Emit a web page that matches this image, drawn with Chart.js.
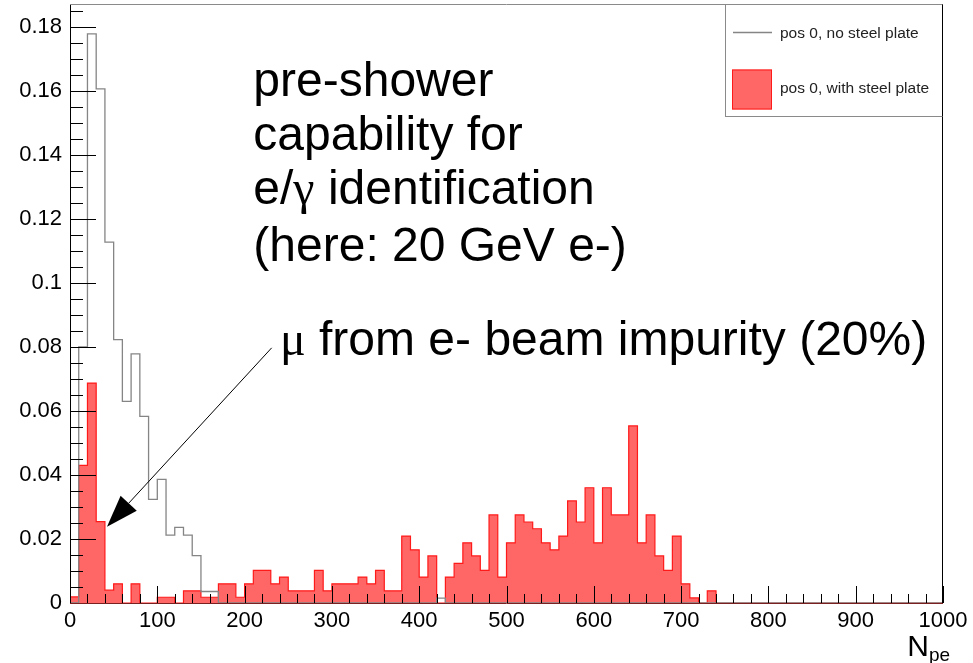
<!DOCTYPE html>
<html>
<head>
<meta charset="utf-8">
<script src="https://cdn.jsdelivr.net/npm/chart.js@4.4.1/dist/chart.umd.min.js"></script>
<style>
  html, body { margin: 0; padding: 0; background: #fff; }
  #wrap { width: 973px; height: 663px; }
</style>
</head>
<body>
<div id="wrap"><canvas id="npeChart" width="973" height="663"></canvas></div>
<script>
// Histogram binning: 100 bins of 10 p.e. starting at 0
const binStart = 0;
const binWidth = 10;

// pos 0, no steel plate (normalised entries per bin, bins 0-10, 10-20, ...)
const noPlate = [
  0, 0.080, 0.1778, 0.1606, 0.1127, 0.0823, 0.0630, 0.0778, 0.0583, 0.0324,
  0.0386, 0.0212, 0.0236, 0.0212, 0.0148, 0.0036, 0.0036, 0, 0, 0,
  0, 0, 0, 0, 0, 0, 0, 0, 0, 0,
  0, 0, 0, 0, 0, 0, 0, 0, 0, 0,
  0, 0, 0.0015, 0, 0, 0, 0, 0, 0, 0,
  0, 0, 0, 0, 0, 0, 0, 0, 0, 0,
  0, 0, 0, 0, 0, 0, 0, 0, 0, 0,
  0, 0, 0, 0, 0, 0, 0, 0, 0, 0,
  0, 0, 0, 0, 0, 0, 0, 0, 0, 0,
  0, 0, 0, 0, 0, 0, 0, 0, 0, 0
];

// pos 0, with steel plate
const withPlate = [
  0.0019, 0.0430, 0.0687, 0.0254, 0.0040, 0.0060, 0, 0.0060, 0, 0,
  0.0018, 0.0018, 0, 0.0038, 0.0038, 0.0018, 0.0018, 0.0060, 0.0060, 0.0018,
  0.0060, 0.0102, 0.0102, 0.0060, 0.0081, 0.0038, 0.0038, 0.0038, 0.0102, 0.0038,
  0.0060, 0.0060, 0.0060, 0.0081, 0.0060, 0.0102, 0.0038, 0.0038, 0.0209, 0.0166,
  0.0081, 0.0147, 0, 0.0081, 0.0124, 0.0188, 0.0147, 0.0102, 0.0275, 0.0081,
  0.0188, 0.0275, 0.0253, 0.0232, 0.0188, 0.0166, 0.0209, 0.0319, 0.0253, 0.0360,
  0.0188, 0.0360, 0.0275, 0.0275, 0.0553, 0.0188, 0.0275, 0.0147, 0.0102, 0.0209,
  0.0060, 0.0016, 0, 0.0038, 0, 0, 0, 0, 0, 0,
  0, 0, 0, 0, 0, 0, 0, 0, 0, 0,
  0, 0, 0, 0, 0, 0, 0, 0, 0, 0
];

const xTicks = [0, 100, 200, 300, 400, 500, 600, 700, 800, 900, 1000];
const yTicks = [0, 0.02, 0.04, 0.06, 0.08, 0.1, 0.12, 0.14, 0.16, 0.18];
const yTop = 0.1868;
const xMinorStep = 20;
const yMinorStep = 0.005;

const seriesLabels = ['pos 0, no steel plate', 'pos 0, with steel plate'];
const noteLines = [
  [['pre-shower', 0]],
  [['capability for', 0]],
  [['e/', 0], ['\u03b3', 1], [' identification', 0]],
  [['(here: 20 GeV e-)', 0]]
];
const muNote = [['\u03bc', 1], [' from e- beam impurity (20%)', 0]];

const SANS = '"Liberation Sans", Arial, Helvetica, sans-serif';
const SERIF = '"Liberation Serif", "Times New Roman", serif';
const greyLine = '#858585';
const redFill = 'rgba(255, 0, 0, 0.6)';
const redLine = '#ff1a1a';

// turn per-bin contents into step points (left edge of each bin + closing edge)
function stepPoints(values) {
  const pts = values.map((v, i) => ({ x: binStart + i * binWidth, y: v }));
  pts.push({ x: binStart + values.length * binWidth, y: values[values.length - 1] });
  return pts;
}

function drawMixed(ctx, parts, x, y, size) {
  let cx = x;
  parts.forEach(([txt, serif]) => {
    ctx.font = size + 'px ' + (serif ? SERIF : SANS);
    ctx.fillText(txt, cx, y);
    cx += ctx.measureText(txt).width;
  });
}

// ROOT-like frame: ticks inside the pad, legend box, annotations
const rootStyle = {
  id: 'rootStyle',
  afterDatasetsDraw(chart) {
    const { ctx, chartArea: ca, scales: { x, y } } = chart;
    ctx.save();
    ctx.strokeStyle = '#000';
    ctx.lineWidth = 1;
    ctx.beginPath();
    // y ticks (major + minor), pointing right
    for (let k = 0; k * yMinorStep <= yTop + 1e-9; k++) {
      const v = k * yMinorStep;
      const major = yTicks.some(t => Math.abs(t - v) < 1e-9);
      const py = Math.round(y.getPixelForValue(v)) + 0.5;
      ctx.moveTo(ca.left, py);
      ctx.lineTo(ca.left + (major ? 26 : 13), py);
    }
    // x ticks, pointing up
    for (let v = 0; v <= 1000; v += xMinorStep) {
      const major = xTicks.includes(v);
      const px = Math.round(x.getPixelForValue(v)) + 0.5;
      ctx.moveTo(px, ca.bottom);
      ctx.lineTo(px, ca.bottom - (major ? 17 : 9));
    }
    ctx.stroke();

    // axes and frame
    ctx.beginPath();
    ctx.strokeStyle = '#000';
    ctx.moveTo(Math.round(ca.left) + 0.5, ca.bottom);
    ctx.lineTo(Math.round(ca.left) + 0.5, ca.top);
    ctx.moveTo(Math.round(ca.right) - 0.5, ca.top);
    ctx.lineTo(Math.round(ca.right) - 0.5, ca.bottom);
    ctx.stroke();
    ctx.beginPath();
    ctx.strokeStyle = '#7a2020';
    ctx.moveTo(ca.left, Math.round(ca.bottom) + 0.5);
    ctx.lineTo(ca.right, Math.round(ca.bottom) + 0.5);
    ctx.stroke();
    ctx.beginPath();
    ctx.strokeStyle = '#8a8a8a';
    ctx.moveTo(ca.left, Math.round(ca.top) - 0.5);
    ctx.lineTo(ca.right, Math.round(ca.top) - 0.5);
    ctx.stroke();
    ctx.restore();
  },
  afterDraw(chart) {
    const { ctx, chartArea: ca, scales: { x, y } } = chart;
    ctx.save();

    // legend box in the top-right corner
    const lx = ca.right - 218, ly = ca.top - 0.5, lw = 218, lh = 112;
    ctx.fillStyle = '#fff';
    ctx.fillRect(lx, ly, lw, lh);
    ctx.strokeStyle = '#8a8a8a';
    ctx.lineWidth = 1;
    ctx.strokeRect(Math.round(lx) + 0.5, ly, lw - 1, lh);
    ctx.beginPath();
    ctx.strokeStyle = '#000';
    ctx.moveTo(Math.round(ca.right) - 0.5, ly);
    ctx.lineTo(Math.round(ca.right) - 0.5, ly + lh);
    ctx.stroke();

    ctx.beginPath();
    ctx.strokeStyle = greyLine;
    ctx.lineWidth = 1.3;
    ctx.moveTo(lx + 8, ly + 28);
    ctx.lineTo(lx + 47, ly + 28);
    ctx.stroke();
    ctx.fillStyle = redFill;
    ctx.fillRect(lx + 7, ly + 65, 40, 40);
    ctx.strokeStyle = redLine;
    ctx.lineWidth = 1;
    ctx.strokeRect(lx + 7.5, ly + 65.5, 39, 39);

    ctx.fillStyle = '#222';
    ctx.font = '15.5px ' + SANS;
    ctx.textBaseline = 'alphabetic';
    ctx.textAlign = 'left';
    ctx.fillText(seriesLabels[0], lx + 55, ly + 33);
    ctx.fillText(seriesLabels[1], lx + 55, ly + 88);

    // annotation text, anchored in data space
    ctx.fillStyle = '#000';
    const noteX = x.getPixelForValue(210);
    const noteY = [0.1584, 0.1415, 0.1246, 0.1068];
    noteLines.forEach((parts, i) => drawMixed(ctx, parts, noteX, y.getPixelForValue(noteY[i]), 48));
    drawMixed(ctx, muNote, x.getPixelForValue(240.5), y.getPixelForValue(0.0775), 48);

    // arrow to the muon peak
    const x0 = x.getPixelForValue(231), y0 = y.getPixelForValue(0.0797);
    const x1 = x.getPixelForValue(42.4), y1 = y.getPixelForValue(0.0238);
    const ang = Math.atan2(y1 - y0, x1 - x0);
    const hl = 32, hw = 11;
    const bx = x1 - hl * Math.cos(ang), by = y1 - hl * Math.sin(ang);
    ctx.strokeStyle = '#000';
    ctx.lineWidth = 1;
    ctx.beginPath();
    ctx.moveTo(x0, y0);
    ctx.lineTo(bx, by);
    ctx.stroke();
    ctx.beginPath();
    ctx.moveTo(x1, y1);
    ctx.lineTo(bx + hw * Math.sin(ang), by - hw * Math.cos(ang));
    ctx.lineTo(bx - hw * Math.sin(ang), by + hw * Math.cos(ang));
    ctx.closePath();
    ctx.fill();

    // x axis title N_pe
    ctx.font = '30px ' + SANS;
    ctx.textAlign = 'left';
    const nW = ctx.measureText('N').width;
    const tx = ca.right - nW - 14;
    ctx.fillText('N', tx, 656);
    ctx.font = '19px ' + SANS;
    ctx.fillText('pe', tx + nW, 661);
    ctx.restore();
  }
};

const ctx = document.getElementById('npeChart').getContext('2d');
new Chart(ctx, {
  type: 'line',
  data: {
    datasets: [
      {
        label: seriesLabels[0],
        data: stepPoints(noPlate),
        stepped: 'before',
        borderColor: greyLine,
        borderWidth: 1.3,
        pointRadius: 0,
        fill: false
      },
      {
        label: seriesLabels[1],
        data: stepPoints(withPlate),
        stepped: 'before',
        borderColor: redLine,
        borderWidth: 1.2,
        backgroundColor: redFill,
        pointRadius: 0,
        fill: 'origin'
      }
    ]
  },
  options: {
    responsive: false,
    animation: false,
    layout: { padding: { left: 0, top: 5, right: 30, bottom: 0 } },
    plugins: { legend: { display: false }, tooltip: { enabled: false } },
    scales: {
      x: {
        type: 'linear',
        min: 0,
        max: 1000,
        afterFit: s => { s.height = 60; s.paddingLeft = 0; s.paddingRight = 0; },
        afterBuildTicks: s => { s.ticks = xTicks.map(v => ({ value: v })); },
        grid: { display: false, drawTicks: false },
        border: { display: false },
        ticks: {
          padding: 5,
          color: '#000',
          maxRotation: 0,
          autoSkip: false,
          font: { family: SANS, size: 22 },
          callback: v => String(v)
        }
      },
      y: {
        min: 0,
        max: yTop,
        afterFit: s => { s.width = 70; s.paddingTop = 0; s.paddingBottom = 0; },
        afterBuildTicks: s => { s.ticks = yTicks.map(v => ({ value: v })); },
        grid: { display: false, drawTicks: false },
        border: { display: false },
        ticks: {
          padding: 8,
          color: '#000',
          font: { family: SANS, size: 22 },
          callback: v => String(+v.toFixed(2))
        }
      }
    }
  },
  plugins: [rootStyle]
});
</script>
</body>
</html>
